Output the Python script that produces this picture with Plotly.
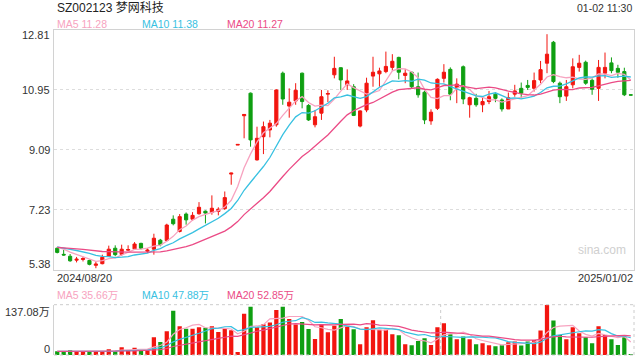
import plotly.graph_objects as go
import pandas as pd

# ---------------- data ----------------
holidays = ["2024-09-16", "2024-09-17", "2024-10-01", "2024-10-02", "2024-10-03",
            "2024-10-04", "2024-10-07", "2025-01-01"]
dates = [d.strftime("%Y/%m/%d") for d in pd.bdate_range("2024-08-20", "2025-01-02")
         if d.strftime("%Y-%m-%d") not in holidays]

opens = [6.04, 5.85, 5.79, 5.67, 5.69, 5.66, 5.51, 5.56, 5.79, 6.04,
         5.85, 5.98, 6.02, 6.19, 5.95, 6.01, 6.29, 6.28, 6.94, 6.56,
         7.10, 6.94, 7.11, 7.19, 7.15, 7.18, 7.27, 8.34, 9.24, 10.15,
         10.85, 8.78, 9.50, 9.71, 9.87, 11.47, 10.45, 10.61, 11.47, 10.47,
         9.87, 10.23, 10.82, 11.42, 11.64, 11.11, 11.05, 9.83, 10.33, 11.38,
         11.45, 11.52, 11.65, 11.96, 11.40, 11.50, 11.05, 10.88, 9.99, 10.38,
         11.31, 11.59, 11.03, 11.67, 10.49, 10.69, 10.49, 10.59, 10.82, 10.64,
         10.36, 10.82, 11.00, 11.09, 11.00, 11.26, 11.78, 12.43, 11.16, 10.76,
         11.11, 11.65, 11.81, 11.25, 11.00, 11.47, 11.79, 11.62, 11.52, 10.80]
highs = [6.07, 5.99, 5.86, 5.77, 5.78, 5.69, 5.63, 5.84, 6.12, 6.13,
         6.15, 6.13, 6.23, 6.21, 6.04, 6.49, 6.33, 6.80, 7.06, 7.10,
         7.15, 7.16, 7.47, 7.21, 7.68, 7.31, 7.80, 8.38, 9.26, 10.20,
         10.87, 9.81, 9.97, 10.02, 10.97, 11.52, 11.00, 11.16, 11.49, 10.51,
         10.33, 10.95, 10.94, 11.98, 11.65, 11.59, 11.13, 10.32, 11.33, 11.98,
         11.64, 12.14, 12.06, 11.98, 11.60, 11.52, 11.49, 10.93, 10.35, 11.31,
         11.75, 11.65, 11.31, 11.71, 10.74, 10.83, 10.74, 10.92, 10.88, 10.69,
         10.87, 11.11, 11.18, 11.26, 11.49, 11.85, 12.68, 12.47, 11.21, 11.26,
         11.93, 12.04, 11.86, 11.31, 11.88, 12.11, 11.96, 11.73, 11.64, 10.80]
lows = [5.88, 5.81, 5.62, 5.60, 5.63, 5.51, 5.42, 5.54, 5.77, 5.79,
        5.80, 5.96, 6.00, 6.00, 5.89, 5.84, 6.10, 6.25, 6.75, 6.53,
        6.77, 6.89, 7.08, 6.81, 7.08, 7.06, 7.23, 8.01, 9.24, 9.45,
        9.19, 8.76, 8.96, 9.48, 9.81, 10.49, 10.09, 10.49, 10.38, 9.99,
        9.79, 10.02, 10.57, 11.31, 10.95, 10.95, 10.14, 9.79, 10.26, 11.05,
        11.05, 11.47, 11.55, 11.28, 11.16, 11.00, 10.71, 9.89, 9.87, 10.33,
        11.18, 10.63, 10.54, 10.51, 10.09, 10.43, 10.26, 10.51, 10.57, 10.28,
        10.36, 10.74, 10.69, 10.95, 10.90, 11.16, 11.47, 11.16, 10.54, 10.61,
        11.00, 11.52, 11.11, 10.80, 10.61, 11.31, 11.47, 11.33, 10.76, 10.79]
closes = [5.91, 5.83, 5.65, 5.70, 5.72, 5.54, 5.55, 5.76, 6.01, 5.84,
          6.01, 6.00, 6.17, 6.04, 5.98, 6.35, 6.15, 6.76, 6.80, 7.02,
          6.92, 7.06, 7.31, 7.13, 7.28, 7.25, 7.61, 8.37, 9.26, 10.19,
          9.40, 9.45, 9.81, 9.92, 10.95, 10.67, 10.57, 10.94, 10.59, 10.02,
          10.12, 10.74, 10.84, 11.62, 11.26, 11.23, 10.16, 10.30, 11.16, 11.50,
          11.54, 11.68, 11.84, 11.50, 11.47, 11.05, 10.80, 10.02, 10.26, 11.28,
          11.50, 10.82, 11.13, 10.67, 10.71, 10.49, 10.59, 10.74, 10.69, 10.36,
          10.71, 10.92, 10.85, 11.03, 11.24, 11.58, 12.06, 11.21, 10.74, 11.05,
          11.67, 11.78, 11.16, 10.97, 11.65, 11.65, 11.55, 11.50, 10.80, 10.79]
volumes = [10.0, 8.2, 12.8, 10.0, 10.0, 10.0, 9.0, 10.0, 15.5, 10.0,
           21.0, 12.8, 20.0, 12.8, 12.8, 48.4, 35.6, 64.9, 120.6, 78.6,
           71.3, 71.3, 75.8, 74.0, 78.6, 63.0, 71.3, 67.6, 8.2, 112.4,
           131.6, 75.8, 84.0, 88.6, 122.5, 131.6, 98.0, 83.0, 89.6, 71.0,
           43.5, 84.0, 62.1, 79.5, 97.8, 77.7, 70.4, 29.2, 75.8, 95.0,
           68.5, 68.5, 56.7, 53.9, 29.2, 26.5, 38.4, 45.7, 27.4, 75.8,
           86.8, 56.7, 42.9, 50.3, 42.9, 29.2, 32.0, 26.5, 23.8, 26.5,
           34.7, 36.6, 25.6, 36.6, 41.1, 66.7, 137.08, 94.1, 54.8, 42.9,
           75.8, 59.4, 48.4, 32.0, 78.6, 54.8, 42.9, 27.4, 48.4, 3.0]
# estimated closes / volumes of the 19 sessions before the window (for the MA lines)
prior_closes = [6.02, 6.05, 6.00, 6.04, 6.08, 6.03, 6.06, 6.10, 6.07, 6.04,
                6.09, 6.12, 6.08, 6.05, 6.10, 6.14, 6.11, 6.08, 6.12]
prior_volumes = [9, 11, 8, 10, 12, 9, 10, 8, 11, 10, 9, 12, 10, 8, 9, 11, 10, 9, 10]

price_ticks = [12.81, 10.95, 9.09, 7.23, 5.38]
price_tick_text = ["12.81", "10.95", "9.09", "7.23", "5.38"]
vol_ticks = [137.08, 0]
vol_tick_text = ["137.08万", "0"]

title_text = "SZ002123 梦网科技"
time_text = "01-02 11:30"
ma_price_text = ["MA5 11.28", "MA10 11.38", "MA20 11.27"]
ma_vol_text = ["MA5 35.66万", "MA10 47.88万", "MA20 52.85万"]
ma_periods = [5, 10, 20]

# ---------------- styles ----------------
RED = "#f2150f"
GREEN = "#0f9f12"
MA_COLORS = ["#f7a3c0", "#38c1e1", "#eb4b86"]
BORDER = "#d2d2d2"
GRID = "#dddddd"
FONT = "Liberation Sans, Arial, Noto Sans CJK SC, sans-serif"

n = len(dates)
assert n == len(closes) == 90

cs = pd.Series(prior_closes + closes)
vs = pd.Series(prior_volumes + volumes)
pre = len(prior_closes)
ma_price = [cs.rolling(p).mean().iloc[pre:].tolist() for p in ma_periods]
ma_vol = [vs.rolling(p).mean().iloc[pre:].tolist() for p in ma_periods]
bar_colors = [RED if c >= o else GREEN for o, c in zip(opens, closes)]

fig = go.Figure()
fig.add_trace(go.Candlestick(
    x=dates, open=opens, high=highs, low=lows, close=closes,
    increasing=dict(line=dict(color=RED, width=1), fillcolor=RED),
    decreasing=dict(line=dict(color=GREEN, width=1), fillcolor=GREEN),
    whiskerwidth=0, xaxis="x", yaxis="y", hoverinfo="skip", showlegend=False))
for vals, col in zip(ma_price, MA_COLORS):
    fig.add_trace(go.Scatter(x=dates, y=vals, mode="lines", line=dict(color=col, width=1.3),
                             xaxis="x", yaxis="y", hoverinfo="skip", showlegend=False))
fig.add_trace(go.Bar(x=dates, y=volumes, marker=dict(color=bar_colors, line=dict(width=0)),
                     width=0.66, xaxis="x2", yaxis="y2", hoverinfo="skip", showlegend=False))
for vals, col in zip(ma_vol, MA_COLORS):
    fig.add_trace(go.Scatter(x=dates, y=vals, mode="lines", line=dict(color=col, width=1.2),
                             xaxis="x2", yaxis="y2", hoverinfo="skip", showlegend=False))

W, H = 640, 360
ML, MR, MT, MB = 54, 6, 30, 5
PW, PH = W - ML - MR, H - MT - MB


def px(xp):
    return (xp - ML) / PW


def py(yp):
    return (H - MB - yp) / PH


main_dom = [py(269.5), 1.0]
vol_dom = [0.0, py(304.7)]

fig.update_layout(
    width=W, height=H, margin=dict(l=ML, r=MR, t=MT, b=MB),
    paper_bgcolor="white", plot_bgcolor="white",
    font=dict(family=FONT, size=11, color="#333333"),
    bargap=0.34, hovermode=False,
    xaxis=dict(type="category", range=[-0.5, n - 0.5], anchor="y", domain=[0, 1],
               showticklabels=False, ticks="", showgrid=False, zeroline=False,
               showline=True, mirror=True, linecolor=BORDER, linewidth=1,
               rangeslider=dict(visible=False), fixedrange=True),
    xaxis2=dict(type="category", matches="x", anchor="y2", domain=[0, 1],
                showticklabels=False, ticks="", showgrid=False, zeroline=False, showline=False),
    yaxis=dict(domain=main_dom, range=[price_ticks[-1], price_ticks[0]], anchor="x",
               tickvals=price_ticks, showticklabels=False, ticks="",
               showgrid=True, gridcolor=GRID, griddash="dot", gridwidth=1, zeroline=False,
               showline=True, mirror=True, linecolor=BORDER, linewidth=1),
    yaxis2=dict(domain=vol_dom, range=[vol_ticks[-1], vol_ticks[0]], anchor="x2",
                showticklabels=False, ticks="", showgrid=False, zeroline=False,
                showline=True, linecolor=BORDER, linewidth=1),
)

dot = dict(color="#cccccc", width=1, dash="dot")
shapes = [
    dict(type="line", xref="x2 domain", yref="y2 domain", x0=0, x1=1, y0=1, y1=1, line=dot),
    dict(type="line", xref="x2 domain", yref="y2 domain", x0=0, x1=1, y0=0, y1=0, line=dot),
    dict(type="line", xref="x2 domain", yref="y2 domain", x0=1, x1=1, y0=0, y1=1, line=dot),
    dict(type="line", xref="x2", yref="y2 domain", x0=59.5, x1=59.5, y0=0, y1=1, line=dot),
]
fig.update_layout(shapes=shapes)

ann = []
# price axis labels
for v, t in zip(price_ticks, price_tick_text):
    shift = 0
    if v == price_ticks[0]:
        shift = -4.5
    elif v == price_ticks[-1]:
        shift = 6
    ann.append(dict(text=t, xref="paper", yref="y", x=px(51.5), y=v, xanchor="right",
                    yanchor="middle", yshift=shift, showarrow=False,
                    font=dict(size=11, color="#333333")))
for v, t in zip(vol_ticks, vol_tick_text):
    shift = -7 if v == vol_ticks[0] else 6
    ann.append(dict(text=t, xref="paper", yref="y2", x=px(51.5), y=v, xanchor="right",
                    yanchor="middle", yshift=shift, showarrow=False,
                    font=dict(size=11, color="#333333")))
# header
ann.append(dict(text=title_text, xref="paper", yref="paper", x=px(55), y=py(7.5),
                xanchor="left", yanchor="middle", showarrow=False,
                font=dict(size=12, color="#222222")))
ann.append(dict(text=time_text, xref="paper", yref="paper", x=px(634), y=py(7.5),
                xanchor="right", yanchor="middle", showarrow=False,
                font=dict(size=10.5, color="#333333")))
leg_x = [55, 140, 225]
for t, col, xx in zip(ma_price_text, MA_COLORS, leg_x):
    ann.append(dict(text=t, xref="paper", yref="paper", x=px(xx), y=py(24),
                    xanchor="left", yanchor="middle", showarrow=False,
                    font=dict(size=10.5, color=col)))
for t, col, xx in zip(ma_vol_text, MA_COLORS, leg_x):
    ann.append(dict(text=t, xref="paper", yref="paper", x=px(xx), y=py(295),
                    xanchor="left", yanchor="middle", showarrow=False,
                    font=dict(size=10.5, color=col)))
# dates
ann.append(dict(text=dates[0], xref="paper", yref="paper", x=px(55), y=py(277.5),
                xanchor="left", yanchor="middle", showarrow=False,
                font=dict(size=11, color="#333333")))
ann.append(dict(text=dates[-1], xref="paper", yref="paper", x=px(634.5), y=py(277.5),
                xanchor="right", yanchor="middle", showarrow=False,
                font=dict(size=11, color="#333333")))
# watermark
ann.append(dict(text="sina.com", xref="paper", yref="paper", x=px(602), y=py(250),
                xanchor="center", yanchor="middle", showarrow=False,
                font=dict(size=12, color="#cfcfcf")))
fig.update_layout(annotations=ann)

fig.write_html("out.html", config=dict(displayModeBar=False, staticPlot=True),
               post_script="document.body.style.margin='0px';document.body.style.padding='0px';")
